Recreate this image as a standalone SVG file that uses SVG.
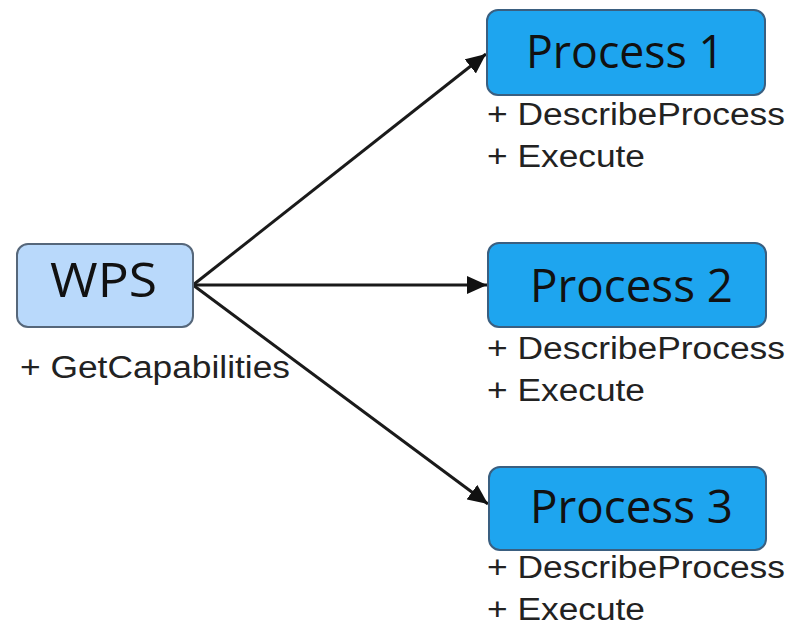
<svg xmlns="http://www.w3.org/2000/svg" width="790" height="627" viewBox="0 0 790 627">
  <style>
    .wps { fill: #b9d9fb; stroke: #56677a; stroke-width: 2; }
    .proc { fill: #1ea5ef; stroke: #3a5f80; stroke-width: 2; }
    .title { font-family: "Open Sans", "Noto Sans", sans-serif; fill: #111; }
    .op { font-family: "Liberation Sans", Arial, sans-serif; font-size: 31px; fill: #222; }
    .edge { stroke: #1a1a1a; stroke-width: 3; fill: none; }
  </style>
  <defs>
    <marker id="arrow" markerUnits="userSpaceOnUse" markerWidth="22" markerHeight="18" refX="20" refY="9" orient="auto">
      <path d="M0,0 L20,9 L0,18 Z" fill="#111"/>
    </marker>
  </defs>
  <rect width="790" height="627" fill="#ffffff"/>

  <!-- connectors -->
  <g id="connectors">
    <line class="edge" x1="193" y1="285" x2="486" y2="54" marker-end="url(#arrow)"/>
    <line class="edge" x1="193" y1="285" x2="487" y2="285" marker-end="url(#arrow)"/>
    <line class="edge" x1="193" y1="285" x2="488" y2="504" marker-end="url(#arrow)"/>
  </g>

  <!-- service node -->
  <g id="wps">
    <rect class="wps" x="17" y="244" width="176" height="83" rx="11"/>
    <text class="title" x="50" y="297" font-size="47" textLength="107" lengthAdjust="spacingAndGlyphs">WPS</text>
    <text class="op" x="20" y="378" textLength="270" lengthAdjust="spacingAndGlyphs">+ GetCapabilities</text>
  </g>

  <!-- process nodes -->
  <g id="process1">
    <rect class="proc" x="487" y="10" width="278" height="85" rx="11"/>
    <text class="title" x="526" y="68" font-size="45" textLength="198" lengthAdjust="spacingAndGlyphs">Process 1</text>
    <text class="op" x="487" y="125" textLength="298" lengthAdjust="spacingAndGlyphs">+ DescribeProcess</text>
    <text class="op" x="487" y="167" textLength="158" lengthAdjust="spacingAndGlyphs">+ Execute</text>
  </g>

  <g id="process2">
    <rect class="proc" x="488" y="243" width="278" height="84" rx="11"/>
    <text class="title" x="530" y="302" font-size="45" textLength="203" lengthAdjust="spacingAndGlyphs">Process 2</text>
    <text class="op" x="487" y="359" textLength="298" lengthAdjust="spacingAndGlyphs">+ DescribeProcess</text>
    <text class="op" x="487" y="401" textLength="158" lengthAdjust="spacingAndGlyphs">+ Execute</text>
  </g>

  <g id="process3">
    <rect class="proc" x="489" y="467" width="277" height="83" rx="11"/>
    <text class="title" x="530" y="523" font-size="45" textLength="203" lengthAdjust="spacingAndGlyphs">Process 3</text>
    <text class="op" x="487" y="578" textLength="298" lengthAdjust="spacingAndGlyphs">+ DescribeProcess</text>
    <text class="op" x="487" y="620" textLength="158" lengthAdjust="spacingAndGlyphs">+ Execute</text>
  </g>
</svg>
